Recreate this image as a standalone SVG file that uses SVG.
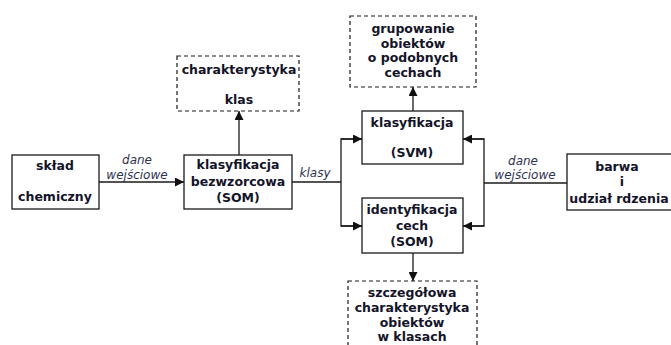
<svg xmlns="http://www.w3.org/2000/svg" width="671" height="345" viewBox="0 0 671 345">
<style>
.box{fill:#fff;stroke:#1a1a1a;stroke-width:1.3}
.dash{fill:#fff;stroke:#1a1a1a;stroke-width:1.2;stroke-dasharray:4 3}
.t{font-family:"DejaVu Sans",Verdana,sans-serif;font-weight:bold;font-size:12.5px;fill:#141428;text-anchor:middle}
.i{font-family:"DejaVu Sans",Verdana,sans-serif;font-style:italic;font-size:12px;fill:#2e3350;text-anchor:middle}
.c{fill:none;stroke:#1a1a1a;stroke-width:1.3}
</style>
<defs>
<marker id="ah" viewBox="0 0 10 10" refX="10" refY="5" markerWidth="9" markerHeight="9" markerUnits="userSpaceOnUse" orient="auto">
<path d="M0,0 L10,5 L0,10 z" fill="#111"/>
</marker>
</defs>
<rect width="671" height="345" fill="#fff"/>
<g id="connectors">
<line class="c" x1="99" y1="182" x2="184" y2="182" marker-end="url(#ah)"/>
<line class="c" x1="239" y1="155" x2="239" y2="111" marker-end="url(#ah)"/>
<polyline class="c" points="292,182 341,182"/>
<polyline class="c" points="362,139 341,139 341,226 362,226"/>
<line class="c" x1="341" y1="139" x2="362" y2="139" marker-end="url(#ah)"/>
<line class="c" x1="341" y1="226" x2="362" y2="226" marker-end="url(#ah)"/>
<polyline class="c" points="567,183 484,183"/>
<polyline class="c" points="463,139 484,139 484,226 463,226"/>
<line class="c" x1="484" y1="139" x2="463" y2="139" marker-end="url(#ah)"/>
<line class="c" x1="484" y1="226" x2="463" y2="226" marker-end="url(#ah)"/>
<line class="c" x1="413" y1="111" x2="413" y2="87" marker-end="url(#ah)"/>
<line class="c" x1="413" y1="253" x2="413" y2="281" marker-end="url(#ah)"/>
<text class="i" x="137" y="164">dane</text>
<text class="i" x="137" y="179">wejściowe</text>
<text class="i" x="315" y="177">klasy</text>
<text class="i" x="523" y="165">dane</text>
<text class="i" x="525" y="179">wejściowe</text>
</g>
<g id="sklad">
<rect class="box" x="12" y="155" width="87" height="54"/>
<text class="t" x="55" y="170">skład</text>
<text class="t" x="55" y="201">chemiczny</text>
</g>
<g id="som1">
<rect class="box" x="184" y="155" width="108" height="54"/>
<text class="t" x="238" y="169">klasyfikacja</text>
<text class="t" x="238" y="186">bezwzorcowa</text>
<text class="t" x="238" y="202">(SOM)</text>
</g>
<g id="charklas">
<rect class="dash" x="177" y="56" width="122" height="55"/>
<text class="t" x="239" y="74">charakterystyka</text>
<text class="t" x="239" y="104">klas</text>
</g>
<g id="svm">
<rect class="box" x="362" y="111" width="101" height="53"/>
<text class="t" x="412" y="127">klasyfikacja</text>
<text class="t" x="412" y="157">(SVM)</text>
</g>
<g id="som2">
<rect class="box" x="362" y="198" width="101" height="55"/>
<text class="t" x="412" y="214">identyfikacja</text>
<text class="t" x="412" y="230">cech</text>
<text class="t" x="412" y="246">(SOM)</text>
</g>
<g id="grupowanie">
<rect class="dash" x="350" y="16" width="126" height="71"/>
<text class="t" x="413" y="33">grupowanie</text>
<text class="t" x="413" y="48">obiektów</text>
<text class="t" x="413" y="62">o podobnych</text>
<text class="t" x="413" y="77">cechach</text>
</g>
<g id="szczegolowa">
<rect class="dash" x="348" y="281" width="129" height="75"/>
<text class="t" x="412" y="297">szczegółowa</text>
<text class="t" x="412" y="312">charakterystyka</text>
<text class="t" x="412" y="327">obiektów</text>
<text class="t" x="412" y="341">w klasach</text>
</g>
<g id="barwa">
<rect class="box" x="567" y="154" width="120" height="56"/>
<text class="t" x="617" y="171">barwa</text>
<text class="t" x="622" y="186">i</text>
<text class="t" x="619" y="203" font-size="12">udział rdzenia</text>
</g>
</svg>
